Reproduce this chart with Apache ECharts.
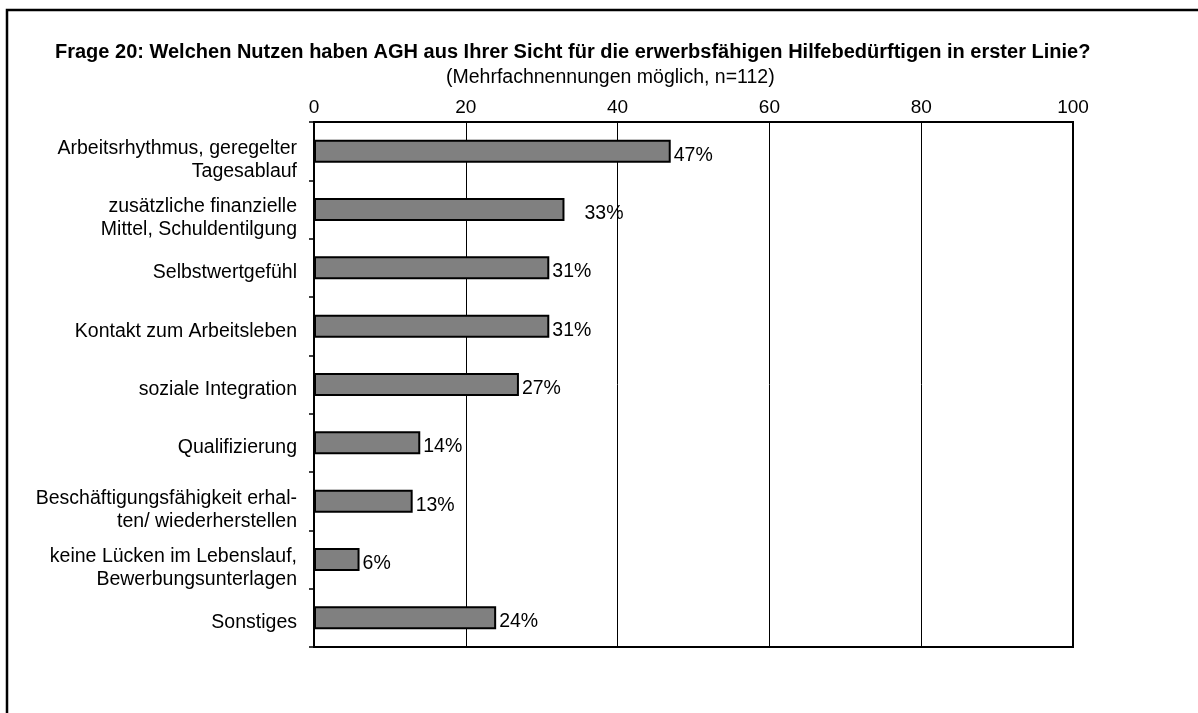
<!DOCTYPE html>
<html>
<head>
<meta charset="utf-8">
<script src="https://cdn.jsdelivr.net/npm/echarts@6/dist/echarts.min.js"></script>
<style>html,body{margin:0;padding:0;background:#fff}#c{width:1198px;height:713px}</style>
</head>
<body>
<div id="c"></div>
<script>
const titleText = 'Frage 20: Welchen Nutzen haben AGH aus Ihrer Sicht für die erwerbsfähigen Hilfebedürftigen in erster Linie?';
const subtitleText = '(Mehrfachnennungen möglich, n=112)';
const categories = [
  'Arbeitsrhythmus, geregelter\nTagesablauf',
  'zusätzliche finanzielle\nMittel, Schuldentilgung',
  'Selbstwertgefühl',
  'Kontakt zum Arbeitsleben',
  'soziale Integration',
  'Qualifizierung',
  'Beschäftigungsfähigkeit erhal-\nten/ wiederherstellen',
  'keine Lücken im Lebenslauf,\nBewerbungsunterlagen',
  'Sonstiges'
];
const values = [47, 33, 31, 31, 27, 14, 13, 6, 24];
const xTicks = [0, 20, 40, 60, 80, 100];

const FONT = '"Liberation Sans", Arial, sans-serif';
const chart = echarts.init(document.getElementById('c'), null, {renderer: 'canvas'});
chart.setOption({
  animation: false,
  backgroundColor: '#fff',
  textStyle: {fontFamily: FONT, color: '#000'},
  graphic: [{
    type: 'rect', z: -1,
    shape: {x: 7, y: 10, width: 1400, height: 900},
    style: {fill: '#fff', stroke: '#000', lineWidth: 2.5}
  }],
  title: [{
    text: titleText,
    left: 50, top: 37,
    textStyle: {fontFamily: FONT, fontSize: 20, fontWeight: 'bold', color: '#000'}
  }, {
    text: subtitleText,
    left: 441, top: 63,
    textStyle: {fontFamily: FONT, fontSize: 19.5, fontWeight: 'normal', color: '#000'}
  }],
  grid: {left: 314, top: 122, width: 759, height: 525, show: true, borderColor: '#000', borderWidth: 2, backgroundColor: 'transparent'},
  xAxis: {
    type: 'value', position: 'top', min: 0, max: 100, interval: 20,
    axisLine: {show: true, lineStyle: {color: '#000', width: 2}},
    axisTick: {show: false},
    axisLabel: {fontFamily: FONT, fontSize: 19, color: '#000', margin: 5,
      formatter: v => xTicks.includes(v) ? String(v) : ''},
    splitLine: {show: true, lineStyle: {color: '#000', width: 1}}
  },
  yAxis: {
    type: 'category', inverse: true,
    data: categories,
    axisLine: {show: true, lineStyle: {color: '#000', width: 2}},
    axisTick: {show: true, inside: false, length: 5, lineStyle: {color: '#000', width: 1.5}},
    axisLabel: {
      interval: 0, showMinLabel: true, showMaxLabel: true, hideOverlap: false,
      fontFamily: FONT, fontSize: 19.5, color: '#000', margin: 17, align: 'right',
      formatter: v => {
        const lines = v.split('\n');
        const sp = lines.length > 1 ? '{sp2| }' : '{sp1| }';
        return sp + '\n' + lines.map(l => '{t|' + l + '}').join('\n');
      },
      rich: {
        t: {fontFamily: FONT, fontSize: 19.5, lineHeight: 23, color: '#000'},
        sp1: {fontSize: 4, lineHeight: 10},
        sp2: {fontSize: 4, lineHeight: 18}
      }
    }
  },
  series: [{
    type: 'bar',
    data: values.map((v, i) => i === 1 ? {value: v, label: {offset: [17, 4]}} : v),
    barWidth: 23,
    itemStyle: {color: '#808080', borderColor: '#000', borderWidth: 2},
    label: {show: true, position: 'right', distance: 3, offset: [0, 4], formatter: '{c}%', fontFamily: FONT, fontSize: 19.5, color: '#000'}
  }]
});
</script>
</body>
</html>
